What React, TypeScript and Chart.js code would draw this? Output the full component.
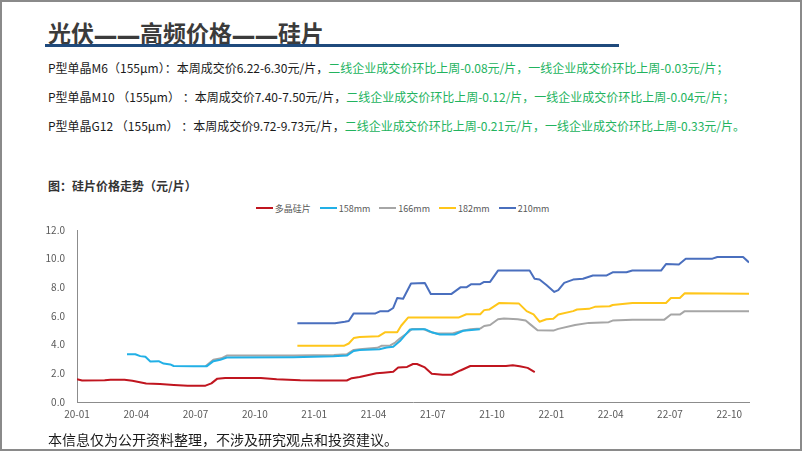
import React, { useEffect, useRef } from "react";
import { Chart, registerables } from "chart.js";

Chart.register(...registerables);

// x = months since 2020-01, y = price (元/片)
const polySeries: [number, number][] = [
  [0, 1.59], [0.26, 1.5], [1.4, 1.52], [1.7, 1.56], [2.4, 1.56], [2.8, 1.48], [3.5, 1.29], [4.2, 1.25], [4.9, 1.19], [5.6, 1.14],
  [6.5, 1.14], [6.8, 1.3], [7.1, 1.63], [7.5, 1.68], [9.3, 1.68], [10.1, 1.59], [11.3, 1.52], [12.3, 1.5], [13.65, 1.5], [13.9, 1.66],
  [14.3, 1.75], [15.15, 2.0], [15.5, 2.04], [16.0, 2.11], [16.25, 2.4], [16.7, 2.45], [17.0, 2.65], [17.2, 2.65], [17.6, 2.41], [17.95, 1.97],
  [18.5, 1.9], [18.95, 1.9], [19.4, 2.2], [19.9, 2.51], [21.7, 2.51], [22.05, 2.56], [22.4, 2.5], [22.8, 2.38], [23.16, 2.09],
];

const s158: [number, number][] = [
  [2.53, 3.33], [2.95, 3.33], [3.2, 3.2], [3.46, 3.15], [3.71, 2.83], [4.13, 2.85], [4.38, 2.68], [4.72, 2.62], [4.89, 2.51], [5.9, 2.49],
  [6.57, 2.5], [6.9, 2.85], [7.25, 2.95], [7.58, 3.1], [10.95, 3.13], [12.97, 3.19], [13.65, 3.24], [14.0, 3.56], [14.3, 3.63], [15.3, 3.68],
  [15.67, 3.8], [16.0, 3.85], [16.34, 4.25], [16.84, 5.05], [17.6, 5.08], [17.94, 4.87], [18.36, 4.71], [19.1, 4.71], [19.54, 4.97], [20.38, 5.08],
];

const s166: [number, number][] = [
  [6.5, 2.5], [6.9, 2.95], [7.3, 3.05], [7.6, 3.25], [10.95, 3.25], [13.0, 3.28], [13.65, 3.33], [14.0, 3.63], [14.3, 3.68], [15.2, 3.78],
  [15.4, 3.92], [15.85, 3.95], [16.1, 4.15], [16.35, 4.45], [16.7, 4.8], [16.95, 5.1], [17.5, 5.1], [17.85, 4.9], [18.2, 4.78], [19.0, 4.78],
  [19.5, 4.97], [19.9, 5.08], [20.4, 5.12], [20.6, 5.3], [20.9, 5.37], [21.3, 5.77], [21.6, 5.82], [22.3, 5.78], [22.7, 5.68], [22.95, 5.4],
  [23.3, 5.0], [24.1, 4.98], [24.35, 5.1], [25.2, 5.37], [25.9, 5.52], [26.9, 5.57], [27.1, 5.68], [28.1, 5.73], [29.7, 5.73], [30.05, 6.1],
  [30.5, 6.1], [30.75, 6.34], [34.0, 6.33],
];

const s182: [number, number][] = [
  [11.15, 3.92], [13.5, 3.92], [13.75, 4.08], [14.0, 4.46], [14.3, 4.53], [15.25, 4.58], [15.6, 4.87], [16.2, 4.87], [16.4, 5.32], [16.75, 5.89],
  [19.3, 5.89], [19.7, 6.12], [20.4, 6.12], [20.6, 6.41], [20.85, 6.45], [21.35, 6.9], [22.35, 6.88], [22.75, 6.34], [23.1, 6.11], [23.4, 5.6],
  [23.75, 5.77], [24.1, 5.8], [24.35, 6.1], [25.1, 6.34], [25.3, 6.45], [25.9, 6.5], [26.2, 6.64], [26.95, 6.68], [27.1, 6.77], [28.1, 6.91],
  [29.8, 6.91], [30.05, 7.25], [30.5, 7.25], [30.75, 7.59], [34.0, 7.56],
];

const s210: [number, number][] = [
  [11.15, 5.5], [13.05, 5.5], [13.55, 5.6], [13.75, 5.65], [14.0, 6.18], [15.1, 6.18], [15.35, 6.34], [15.75, 6.34], [16.0, 6.56], [16.2, 7.25],
  [16.5, 7.2], [16.9, 8.27], [17.6, 8.3], [17.9, 7.54], [18.95, 7.54], [19.4, 8.0], [19.7, 8.0], [19.95, 8.22], [20.4, 8.22], [20.6, 8.38],
  [20.9, 8.38], [21.3, 9.17], [22.9, 9.17], [23.15, 8.6], [23.4, 8.55], [23.75, 8.16], [24.15, 7.68], [24.35, 7.8], [24.65, 8.31], [25.1, 8.54],
  [25.6, 8.6], [26.1, 8.83], [26.8, 8.83], [27.1, 9.05], [27.8, 9.05], [28.1, 9.17], [29.55, 9.17], [29.8, 9.62], [30.45, 9.6], [30.8, 10.0],
  [32.15, 10.0], [32.4, 10.12], [33.7, 10.12], [34.0, 9.74],
];

const seriesNames = ["多晶硅片", "158mm", "166mm", "182mm", "210mm"];
const seriesColors = ["#C0151F", "#22B0E6", "#A6A6A6", "#FFC61A", "#4A6FBE"];
const seriesData = [polySeries, s158, s166, s182, s210];

const xTickLabels = ["20-01", "20-04", "20-07", "20-10", "21-01", "21-04", "21-07", "21-10", "22-01", "22-04", "22-07", "22-10"];

const titleParts = ["光伏", "—", "—", "高频价格", "—", "—", "硅片"];

const FONT = '"Noto Sans CJK SC", "Noto Sans", sans-serif';

const infoLines = [
  { black: "P型单晶M6（155μm）：本周成交价6.22-6.30元/片，", green: "二线企业成交价环比上周-0.08元/片，一线企业成交价环比上周-0.03元/片；" },
  { black: "P型单晶M10 （155μm） ：本周成交价7.40-7.50元/片，", green: "二线企业成交价环比上周-0.12/片，一线企业成交价环比上周-0.04元/片；" },
  { black: "P型单晶G12 （155μm） ：本周成交价9.72-9.73元/片，", green: "二线企业成交价环比上周-0.21元/片，一线企业成交价环比上周-0.33元/片。" },
];

function PriceChart() {
  const ref = useRef<HTMLCanvasElement | null>(null);
  useEffect(() => {
    if (!ref.current) return;
    const chart = new Chart(ref.current, {
      type: "line",
      data: {
        datasets: seriesData.map((pts, i) => ({
          label: seriesNames[i],
          data: pts.map(([x, y]) => ({ x, y })),
          borderColor: seriesColors[i],
          backgroundColor: seriesColors[i],
          borderWidth: 2,
          pointRadius: 0,
          tension: 0,
          fill: false,
          borderJoinStyle: "round" as const,
        })),
      },
      options: {
        animation: false,
        responsive: false,
        devicePixelRatio: 1,
        layout: { padding: { top: 12, right: 53, left: 0, bottom: 0 } },
        plugins: { legend: { display: false }, tooltip: { enabled: false } },
        scales: {
          x: {
            type: "linear",
            min: 0,
            max: 34,
            grid: { display: false, drawTicks: false },
            border: { display: true, color: "#8c8c8c", width: 1 },
            ticks: {
              stepSize: 3,
              includeBounds: false,
              autoSkip: false,
              maxRotation: 0,
              padding: 6,
              color: "#595959",
              font: { size: 10, family: FONT },
              callback: (v: any) => xTickLabels[Math.round(Number(v) / 3)] ?? "",
            },
            afterFit: (s: any) => {
              s.height = 28;
            },
          },
          y: {
            min: 0,
            max: 12,
            grid: { display: false, drawTicks: false },
            border: { display: true, color: "#8c8c8c", width: 1 },
            ticks: {
              stepSize: 2,
              padding: 12,
              color: "#595959",
              font: { size: 10, family: FONT },
              callback: (v: any) => Number(v).toFixed(1),
            },
            afterFit: (s: any) => {
              s.width = 77;
            },
          },
        },
      },
    });
    return () => chart.destroy();
  }, []);
  return (
    <canvas
      ref={ref}
      width={802}
      height={218}
      style={{ position: "absolute", left: 0, top: 212, width: 802, height: 218, display: "block" }}
    />
  );
}

export default function App() {
  return (
    <div
      style={{
        position: "absolute",
        left: 0,
        top: 0,
        width: 802,
        height: 451,
        background: "#fff",
        fontFamily: FONT,
        overflow: "hidden",
      }}
    >
      <div
        style={{
          position: "absolute",
          left: 48,
          top: 19,
          fontSize: 23,
          lineHeight: "27px",
          fontWeight: 700,
          color: "#3b3b3b",
          whiteSpace: "nowrap",
          display: "flex",
        }}
      >
        {titleParts.map((p, i) =>
          p === "—" ? (
            <span
              key={i}
              style={{
                display: "inline-block",
                width: 23,
                textAlign: "center",
                transform: "scale(1.15, 1.5)",
              }}
            >
              {p}
            </span>
          ) : (
            <span key={i}>{p}</span>
          )
        )}
      </div>
      <div style={{ position: "absolute", left: 45, top: 44, width: 574, height: 2.5, background: "#1F4A7C" }} />
      {infoLines.map((l, i) => (
        <div
          key={i}
          style={{
            position: "absolute",
            left: 48,
            top: [60, 89, 118][i],
            fontSize: 12,
            lineHeight: "16px",
            color: "#1a1a1a",
            whiteSpace: "nowrap",
          }}
        >
          {l.black}
          <span style={{ color: "#22B35E" }}>{l.green}</span>
        </div>
      ))}
      <div
        style={{
          position: "absolute",
          left: 48,
          top: 178,
          fontSize: 12,
          lineHeight: "15px",
          fontWeight: 700,
          color: "#333",
          whiteSpace: "nowrap",
        }}
      >
        图：硅片价格走势（元/片）
      </div>
      <div
        style={{
          position: "absolute",
          left: 0,
          top: 201,
          width: 805,
          height: 14,
          display: "flex",
          justifyContent: "center",
          alignItems: "center",
          fontSize: 9,
          color: "#595959",
        }}
      >
        {seriesNames.map((n, i) => (
          <div key={n} style={{ display: "flex", alignItems: "center", marginRight: i < seriesNames.length - 1 ? 9 : 0 }}>
            <span style={{ display: "inline-block", width: 17, height: 2, background: seriesColors[i], marginRight: 2 }} />
            <span>{n}</span>
          </div>
        ))}
      </div>
      <PriceChart />
      <div
        style={{
          position: "absolute",
          left: 48,
          top: 431,
          fontSize: 14,
          lineHeight: "17px",
          color: "#1a1a1a",
          whiteSpace: "nowrap",
        }}
      >
        本信息仅为公开资料整理，不涉及研究观点和投资建议。
      </div>
      <div
        style={{
          position: "absolute",
          left: 0,
          top: 0,
          width: 802,
          height: 451,
          boxSizing: "border-box",
          border: "2px solid #8a8a8a",
          pointerEvents: "none",
        }}
      />
    </div>
  );
}
